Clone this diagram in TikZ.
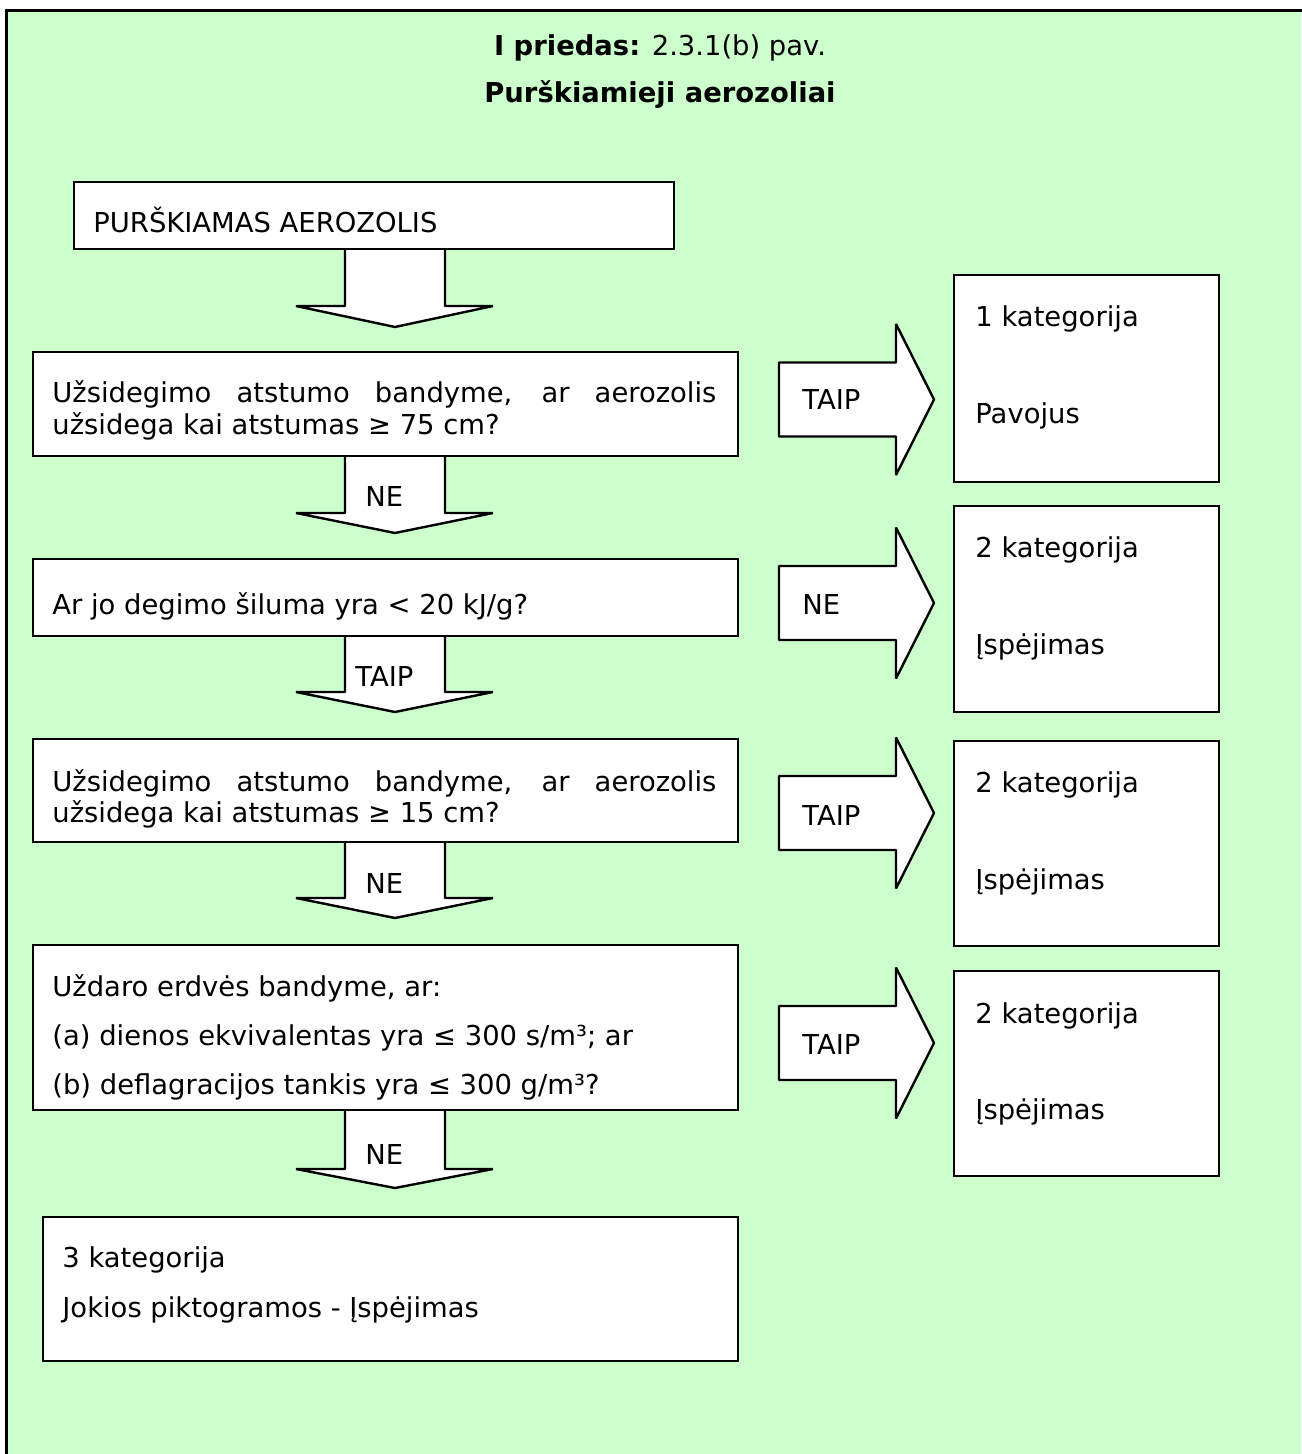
\documentclass[tikz,border=0pt]{standalone}
\usepackage{fontspec}
\setmainfont{DejaVu Sans}
\definecolor{bg}{HTML}{CCFFCC}
\newcommand\dnarrow[3]{% top, head, tip
  \draw[blk] (345,#1) -- (345,#2) -- (296,#2) -- (395,#3) -- (493,#2) -- (445,#2) -- (445,#1);}
\newcommand\rtarrow[1]{% centre y
  \draw[blk] (779,#1-37) -- (896,#1-37) -- (896,#1-75.5) -- (934,#1) -- (896,#1+75.5) -- (896,#1+37) -- (779,#1+37) -- cycle;}
\begin{document}
\begin{tikzpicture}[x=0.5pt,y=-0.5pt,
  box/.style={draw=black, line width=1.2pt, fill=white, rectangle, inner sep=0pt, anchor=north west},
  txt/.style={anchor=base west, inner sep=0pt, font=\fontsize{13.7}{16}\selectfont},
  ttl/.style={anchor=base, inner sep=0pt, font=\fontsize{13.7}{16}\selectfont},
  blk/.style={draw=black, line width=1.2pt, fill=white, line join=bevel}]
\useasboundingbox (0,0) rectangle (1301,1454);
\fill[bg] (6,11) rectangle (1301,1454);
\draw[line width=1.5pt] (1302,11) -- (6,11) -- (6,1455);

\node[ttl] (title1) at (660,56) {\textbf{I priedas:} 2.3.1(b) pav.};
\node[ttl] (title2) at (660,103) {\textbf{Purškiamieji aerozoliai}};

% block arrows
\dnarrow{248}{306}{327}
\dnarrow{455}{513}{533}
\dnarrow{635}{692}{712}
\dnarrow{841}{898}{918}
\dnarrow{1110}{1169}{1188}
\rtarrow{399.5}
\rtarrow{603}
\rtarrow{813}
\rtarrow{1043}

% boxes
\node[box, minimum width=300pt, minimum height=33.5pt] (b1) at (73,181) {};
\node[box, minimum width=352.5pt, minimum height=52pt] (b2) at (32,351) {};
\node[box, minimum width=132.5pt, minimum height=103.5pt] (r1) at (953,274) {};
\node[box, minimum width=352.5pt, minimum height=38.5pt] (b3) at (32,558) {};
\node[box, minimum width=132.5pt, minimum height=103pt] (r2) at (953,505) {};
\node[box, minimum width=352.5pt, minimum height=51.5pt] (b4) at (32,738) {};
\node[box, minimum width=132.5pt, minimum height=102.5pt] (r3) at (953,740) {};
\node[box, minimum width=352.5pt, minimum height=82.5pt] (b5) at (32,944) {};
\node[box, minimum width=132.5pt, minimum height=102.5pt] (r4) at (953,970) {};
\node[box, minimum width=347.5pt, minimum height=72pt] (b6) at (42,1216) {};

% texts
\node[txt] (tb1) at (93,233) {PURŠKIAMAS AEROZOLIS};
\node[txt] (tb2a) at (52,403) {\makebox[332pt][s]{Užsidegimo atstumo bandyme, ar aerozolis}};
\node[txt] (tb2b) at (52,435) {užsidega kai atstumas ≥ 75 cm?};
\node[txt] (tr1a) at (975,327) {1 kategorija};
\node[txt] (tr1b) at (975,423) {Pavojus};
\node[txt] (ta1) at (802,410) {TAIP};
\node[txt] (td2) at (365,506) {NE};
\node[txt] (tb3) at (52,614) {Ar jo degimo šiluma yra < 20 kJ/g?};
\node[txt] (ta2) at (802,614) {NE};
\node[txt] (tr2a) at (975,557) {2 kategorija};
\node[txt] (tr2b) at (975,654) {Įspėjimas};
\node[txt] (td3) at (355,686) {TAIP};
\node[txt] (tb4a) at (52,791) {\makebox[332pt][s]{Užsidegimo atstumo bandyme, ar aerozolis}};
\node[txt] (tb4b) at (52,822) {užsidega kai atstumas ≥ 15 cm?};
\node[txt] (ta3) at (802,825) {TAIP};
\node[txt] (tr3a) at (975,792) {2 kategorija};
\node[txt] (tr3b) at (975,889) {Įspėjimas};
\node[txt] (td4) at (365,893) {NE};
\node[txt] (tb5a) at (52,996) {Uždaro erdvės bandyme, ar:};
\node[txt] (tb5b) at (52,1045) {(a) dienos ekvivalentas yra ≤ 300 s/m³; ar};
\node[txt] (tb5c) at (52,1094) {(b) deflagracijos tankis yra ≤ 300 g/m³?};
\node[txt] (ta4) at (802,1054) {TAIP};
\node[txt] (tr4a) at (975,1023) {2 kategorija};
\node[txt] (tr4b) at (975,1119) {Įspėjimas};
\node[txt] (td5) at (365,1164) {NE};
\node[txt] (tb6a) at (62,1267) {3 kategorija};
\node[txt] (tb6b) at (62,1317) {Jokios piktogramos - Įspėjimas};
\end{tikzpicture}
\end{document}
